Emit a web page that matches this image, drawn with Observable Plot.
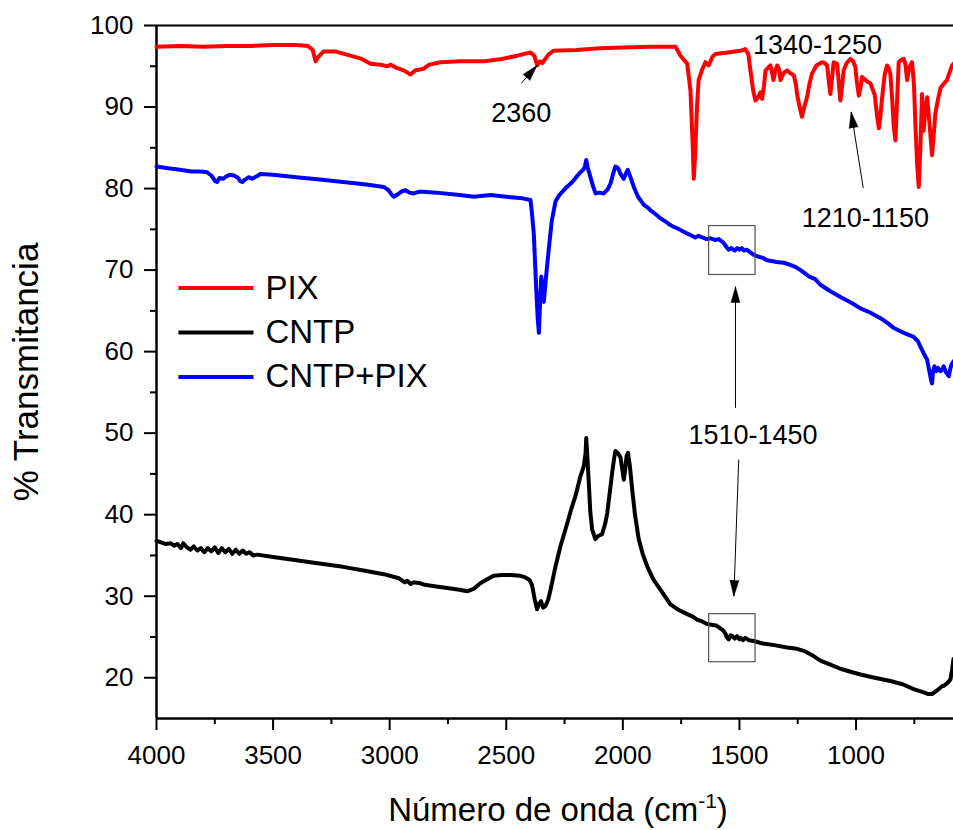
<!DOCTYPE html>
<html><head><meta charset="utf-8">
<script src="https://cdn.jsdelivr.net/npm/d3@7"></script>
<script src="https://cdn.jsdelivr.net/npm/@observablehq/plot@0.6"></script>
<style>html,body{margin:0;padding:0;background:#fff;}</style>
</head><body><div id="chart"></div>
<script>
// ---- Data (wavenumber cm-1, % transmittance) ----
const pix = [
[4000,97.4],[3900,97.5],[3800,97.4],[3700,97.5],[3600,97.5],[3500,97.6],[3400,97.6],[3350,97.5],[3330,97.0],[3318,95.6],[3305,96.2],[3284,96.8],[3230,96.8],[3168,96.3],[3120,95.9],[3082,95.3],[3040,95.2],[3010,95.0],[2995,95.2],[2970,94.8],[2940,94.5],[2911,94.0],[2890,94.5],[2870,94.6],[2855,94.7],[2830,95.2],[2782,95.5],[2700,95.6],[2598,95.6],[2520,95.9],[2452,96.3],[2396,96.7],[2380,96.3],[2367,95.1],[2355,95.6],[2345,95.4],[2320,96.4],[2298,96.9],[2200,97.0],[2100,97.2],[2000,97.3],[1882,97.4],[1800,97.4],[1774,97.4],[1753,96.3],[1724,95.3],[1710,92],[1700,85],[1696,81.2],[1690,84],[1682,90],[1675,93.3],[1660,94.6],[1646,95.5],[1632,95.1],[1615,96.2],[1603,96.5],[1550,96.7],[1496,96.9],[1475,97.1],[1462,96.5],[1453,94.5],[1441,92],[1431,90.8],[1420,91.2],[1410,91.8],[1403,91.0],[1395,92.5],[1388,94.5],[1367,95.1],[1360,94.2],[1354,93.3],[1346,94.5],[1338,95.1],[1330,94.6],[1324,93.3],[1310,94.2],[1295,94.5],[1280,94.1],[1267,93.9],[1258,92.8],[1253,91.6],[1242,90],[1232,88.8],[1222,90],[1210,91.2],[1200,92.8],[1189,94.1],[1170,95.1],[1146,95.5],[1135,95.4],[1124,95.1],[1116,93],[1110,91.6],[1103,93.5],[1096,95.5],[1081,95.3],[1074,93],[1067,90.8],[1060,92.5],[1053,94.5],[1040,95.4],[1024,95.9],[1012,95.6],[1003,94.9],[996,93],[988,91.4],[980,92.5],[974,93.7],[955,93.2],[938,92.9],[920,91.5],[910,89],[902,87.4],[895,89],[888,91.2],[877,94],[867,95.1],[860,94.8],[853,94.1],[845,91],[838,87.5],[831,85.9],[825,90],[817,95.5],[805,95.8],[795,95.9],[788,95.2],[781,93.3],[772,94.8],[760,95.5],[752,93],[745,87.6],[738,83],[731,80.2],[724,85],[717,91.6],[713,89.5],[710,87.1],[703,89.5],[695,91.2],[685,88],[674,84.1],[667,86.5],[660,89.2],[648,91],[638,92.3],[620,93.0],[610,93.3],[598,94.3],[588,95.1],[582,95.3]
];
const cntp = [
[4000,36.8],[3980,36.6],[3960,36.4],[3940,36.5],[3925,36.2],[3910,36.4],[3895,35.9],[3885,36.5],[3870,36.0],[3855,35.7],[3840,36.1],[3825,35.6],[3810,35.9],[3795,35.4],[3780,35.9],[3765,35.5],[3750,36.0],[3735,35.3],[3720,35.9],[3705,35.4],[3690,35.8],[3675,35.2],[3660,35.7],[3645,35.2],[3630,35.6],[3615,35.2],[3600,35.4],[3585,35.0],[3568,35.1],[3500,34.8],[3400,34.4],[3325,34.1],[3200,33.6],[3100,33.1],[3025,32.7],[2960,32.2],[2935,31.7],[2925,31.9],[2910,31.5],[2897,31.7],[2870,31.6],[2850,31.4],[2800,31.2],[2700,30.8],[2668,30.6],[2640,30.9],[2611,31.6],[2580,32.1],[2554,32.5],[2520,32.6],[2482,32.6],[2440,32.5],[2418,32.3],[2400,32.0],[2389,31.3],[2378,29.6],[2368,28.4],[2360,29.0],[2351,29.4],[2342,28.6],[2332,28.8],[2320,29.6],[2310,30.8],[2290,33.5],[2268,36.1],[2240,38.8],[2220,40.8],[2203,42.3],[2182,44.7],[2168,45.9],[2160,47.5],[2157,49.4],[2152,47.0],[2146,43.9],[2140,40.5],[2132,38.2],[2118,37.0],[2105,37.4],[2089,37.6],[2075,39.0],[2067,40.2],[2055,43],[2046,45.1],[2038,46.8],[2032,47.8],[2020,47.5],[2010,47.0],[2002,45.5],[1996,44.3],[1990,45.5],[1984,47.2],[1978,47.6],[1970,46],[1960,43.1],[1948,40],[1932,37.0],[1915,35.2],[1896,33.7],[1870,32.1],[1839,30.8],[1815,29.8],[1796,29.0],[1760,28.3],[1724,27.8],[1700,27.5],[1680,27.1],[1660,26.9],[1639,26.6],[1620,26.5],[1600,26.4],[1589,26.2],[1570,25.8],[1560,25.4],[1555,25.0],[1546,24.7],[1538,25.2],[1530,25.1],[1520,24.8],[1510,25.1],[1500,24.7],[1495,24.9],[1485,24.6],[1475,24.9],[1460,24.6],[1439,24.5],[1400,24.2],[1350,24.0],[1296,23.7],[1260,23.6],[1224,23.3],[1190,22.8],[1153,22.1],[1110,21.6],[1067,21.1],[1020,20.7],[981,20.4],[920,20.0],[853,19.6],[800,19.2],[753,18.6],[710,18.2],[690,18.0],[674,18.0],[660,18.3],[645,18.6],[630,19.0],[624,19.0],[610,19.3],[595,19.8],[588,21],[582,22.3]
];
const cntpPix = [
[4000,82.7],[3950,82.5],[3900,82.3],[3850,82.1],[3810,82.1],[3783,82.0],[3765,81.6],[3748,80.9],[3740,80.8],[3730,81.3],[3715,81.2],[3700,81.5],[3685,81.7],[3668,81.6],[3650,81.3],[3640,80.9],[3632,80.8],[3620,81.1],[3604,81.4],[3590,81.2],[3570,81.5],[3554,81.8],[3500,81.7],[3400,81.4],[3300,81.1],[3200,80.8],[3100,80.5],[3025,80.2],[3005,79.8],[2990,79.2],[2982,79.0],[2960,79.4],[2945,79.7],[2932,79.8],[2915,79.5],[2897,79.4],[2875,79.6],[2854,79.6],[2800,79.5],[2700,79.2],[2639,79.0],[2568,79.2],[2500,79.0],[2430,78.8],[2396,78.6],[2390,77],[2382,74.5],[2372,68],[2365,64],[2360,62.3],[2355,66],[2350,69.2],[2345,68],[2339,66.1],[2330,69],[2318,72.5],[2305,76],[2289,78.4],[2275,79.1],[2260,79.6],[2240,80.2],[2217,80.8],[2200,81.4],[2182,82.0],[2170,82.3],[2163,82.7],[2157,83.5],[2150,82.5],[2139,81.4],[2128,80.3],[2117,79.4],[2100,79.5],[2082,79.4],[2065,79.9],[2053,80.6],[2042,81.8],[2032,82.7],[2020,82.5],[2010,81.8],[1996,81.2],[1988,81.8],[1979,82.3],[1970,81.6],[1953,80.2],[1935,79],[1910,78.0],[1895,77.7],[1880,77.3],[1866,77.0],[1853,76.7],[1836,76.3],[1820,76.0],[1800,75.6],[1782,75.3],[1765,75.1],[1745,74.8],[1725,74.5],[1710,74.3],[1690,74.0],[1675,74.2],[1660,74.0],[1640,73.8],[1624,73.9],[1605,73.7],[1589,73.8],[1570,73.4],[1555,72.8],[1546,72.5],[1535,72.7],[1520,72.4],[1510,72.7],[1500,72.5],[1490,72.7],[1481,72.4],[1468,72.5],[1455,72.2],[1440,71.9],[1424,71.7],[1400,71.5],[1381,71.2],[1340,71.0],[1310,70.9],[1288,70.7],[1260,70.4],[1238,70.0],[1200,69.2],[1175,68.9],[1153,68.2],[1110,67.4],[1067,66.7],[1020,66.0],[981,65.3],[940,64.8],[895,64.1],[860,63.4],[838,62.9],[795,62.3],[753,61.8],[735,61.3],[724,60.6],[710,59.8],[695,59.0],[685,57.5],[678,56.5],[674,56.1],[670,57.5],[664,58.2],[655,57.6],[648,58.0],[638,57.6],[630,57.8],[624,58.2],[615,57.5],[602,57.0],[595,58.0],[589,58.5],[582,58.8]
];

const seriesNames = ["PIX", "CNTP", "CNTP+PIX"];
const seriesColors = ["#ff0000", "#000000", "#0000ff"];

const xMajorTicks = [4000, 3500, 3000, 2500, 2000, 1500, 1000];
const xMinorTicks = [3750, 3250, 2750, 2250, 1750, 1250, 750];
const yMajorTicks = [20, 30, 40, 50, 60, 70, 80, 90, 100];
const yMinorTicks = [25, 35, 45, 55, 65, 75, 85, 95];

const xLabel = "Número de onda (cm-1)";
const yLabel = "% Transmitancia";

// annotation labels (data coordinates)
const noteText = ["2360", "1340-1250", "1210-1150", "1510-1450"];
const noteX = [2436, 1165, 960, 1442];
const noteY = [89.2, 97.55, 76.4, 49.7];

// arrows (data coordinates: tail -> tip)
const arrowX1 = [2436, 969, 1517, 1503];
const arrowY1 = [92.9, 80.05, 53.1, 46.76];
const arrowX2 = [2368, 1021, 1517, 1524];
const arrowY2 = [95.1, 89.4, 67.97, 30.0];

// highlight boxes (data coordinates)
const boxX1 = [1630, 1630];
const boxX2 = [1431, 1431];
const boxY1 = [75.4, 27.8];
const boxY2 = [69.4, 21.9];

// ---- Layout ----
const W = 953, H = 830, mL = 156, mR = 0, mT = 25, mB = 112;
const xDomain = [4000, 582], yDomain = [15, 100];
const kx = (W - mL - mR) / (xDomain[0] - xDomain[1]);
const ky = (H - mT - mB) / (yDomain[1] - yDomain[0]);

const arrows = arrowX1.map((x1, i) => {
  const a = {x1, y1: arrowY1[i], x2: arrowX2[i], y2: arrowY2[i]};
  const dx = -(a.x2 - a.x1) * kx, dy = -(a.y2 - a.y1) * ky;
  a.angle = Math.atan2(dx, -dy) * 180 / Math.PI;
  return a;
});
const notes = noteText.map((t, i) => ({t, x: noteX[i], y: noteY[i]}));
const boxes = boxX1.map((x1, i) => ({x1, x2: boxX2[i], y1: boxY1[i], y2: boxY2[i]}));
const legend = seriesNames.map((name, i) => ({name, color: seriesColors[i], i}));

const font = "'Liberation Sans', Arial, Helvetica, sans-serif";
const fmt = d3.format("d");

const chart = Plot.plot({
  width: W, height: H,
  marginLeft: mL, marginRight: mR, marginTop: mT, marginBottom: mB,
  style: {fontFamily: font, fontSize: "26px", background: "#fff", color: "#000", overflow: "visible"},
  x: {domain: xDomain, axis: null},
  y: {domain: yDomain, axis: null},
  marks: [
    // axes
    Plot.axisX({ticks: xMajorTicks, tickSize: 12, tickPadding: 15, tickFormat: fmt, fontSize: 26, strokeWidth: 2, label: null}),
    Plot.axisX({ticks: xMinorTicks, tickSize: 6, tickFormat: () => "", strokeWidth: 2, label: null}),
    Plot.axisY({ticks: yMajorTicks, tickSize: 12, tickPadding: 11, tickFormat: fmt, fontSize: 26, strokeWidth: 2, label: null}),
    Plot.axisY({ticks: yMinorTicks, tickSize: 6, tickFormat: () => "", strokeWidth: 2, label: null}),
    Plot.ruleX([xDomain[0]], {strokeWidth: 2.5}),
    Plot.ruleY([yDomain[0]], {strokeWidth: 2.5}),
    Plot.ruleY([yDomain[1]], {strokeWidth: 2}),
    // spectra
    Plot.line(pix, {x: d => d[0], y: d => d[1], stroke: seriesColors[0], strokeWidth: 4, strokeLinejoin: "round"}),
    Plot.line(cntpPix, {x: d => d[0], y: d => d[1], stroke: seriesColors[2], strokeWidth: 4, strokeLinejoin: "round"}),
    Plot.line(cntp, {x: d => d[0], y: d => d[1], stroke: seriesColors[1], strokeWidth: 4, strokeLinejoin: "round"}),
    // boxes
    Plot.rect(boxes, {x1: "x1", x2: "x2", y1: "y1", y2: "y2", fill: "none", stroke: "#555", strokeWidth: 1.2}),
    // arrows
    Plot.link(arrows, {x1: "x1", y1: "y1", x2: "x2", y2: "y2", stroke: "#000", strokeWidth: 1}),
    Plot.vector(arrows, {x: "x2", y: "y2", rotate: "angle", length: 16, r: 4.5, anchor: "end", shape: "spike", fill: "#000", stroke: "#000", strokeWidth: 0.5}),
    // annotation texts
    Plot.text(notes, {x: "x", y: "y", text: "t", fontSize: 27, fill: "#000"}),
    // legend
    Plot.link(legend, {x1: 3906, x2: 3584, y1: d => 67.8 - d.i * 5.45, y2: d => 67.8 - d.i * 5.45, stroke: "color", strokeWidth: 4}),
    Plot.text(legend, {x: 3533, y: d => 67.8 - d.i * 5.45, text: "name", textAnchor: "start", fontSize: 33, fill: "#000"}),
    // axis titles
    Plot.text([xLabel], {frameAnchor: "bottom", lineAnchor: "bottom", dy: 102, dx: 3, text: d => d, fontSize: 33, fill: "#000"}),
    Plot.text([yLabel], {frameAnchor: "left", textAnchor: "middle", dx: -130, rotate: -90, text: d => d, fontSize: 35, fill: "#000"})
  ]
});

// superscript for the x-axis title
for (const t of chart.querySelectorAll("text")) {
  if (t.textContent === xLabel) {
    t.textContent = "";
    const ns = "http://www.w3.org/2000/svg";
    const a = document.createElementNS(ns, "tspan"); a.textContent = "Número de onda (cm";
    const b = document.createElementNS(ns, "tspan"); b.textContent = "-1"; b.setAttribute("dy", "-13"); b.setAttribute("font-size", "21");
    const c = document.createElementNS(ns, "tspan"); c.textContent = ")"; c.setAttribute("dy", "13");
    t.append(a, b, c);
  }
}
document.getElementById("chart").append(chart);
</script>
</body></html>
